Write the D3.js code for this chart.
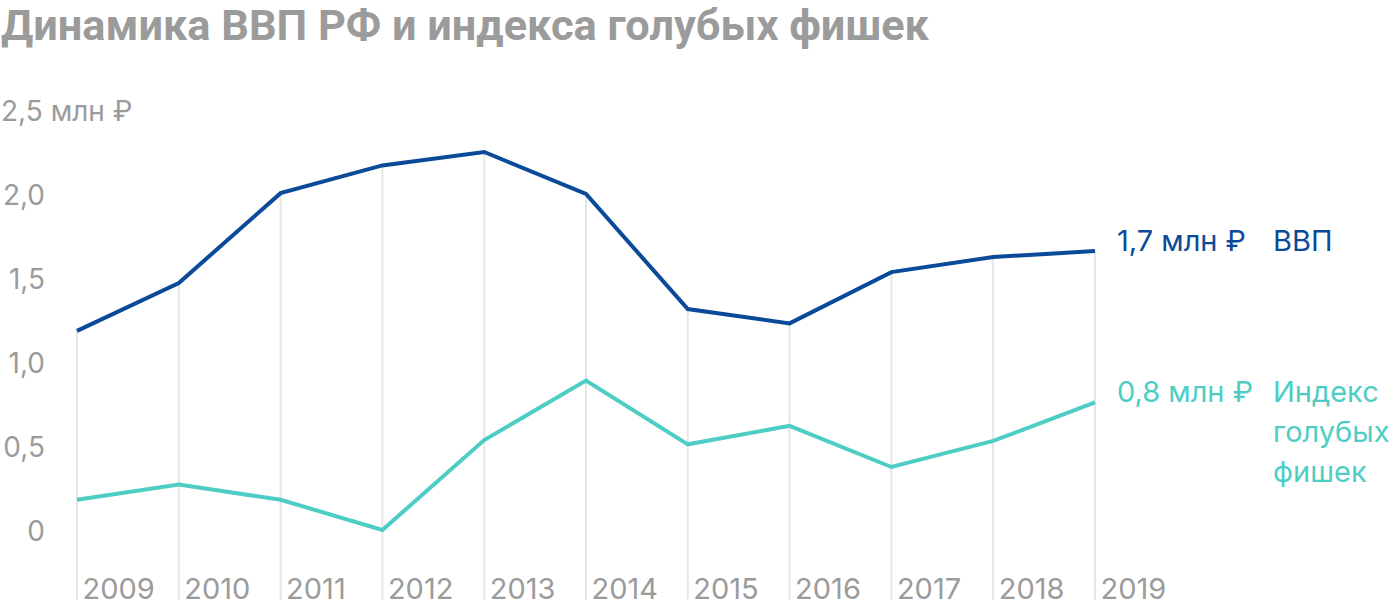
<!DOCTYPE html>
<html><head><meta charset="utf-8">
<script src="https://cdn.jsdelivr.net/npm/d3@7"></script>
<style>body{margin:0;background:#fff}svg{display:block}</style>
</head><body>
<svg id="c" width="1400" height="612"></svg>
<script>
const years = [2009,2010,2011,2012,2013,2014,2015,2016,2017,2018,2019];
const gdp = [1.185,1.47,2.005,2.17,2.25,2.0,1.315,1.23,1.535,1.625,1.66];
const blueChips = [0.18,0.27,0.18,0.0,0.535,0.89,0.51,0.62,0.375,0.53,0.76];
const yTicks = [0,0.5,1.0,1.5,2.0,2.5];
const yTickLabels = ["0","0,5","1,0","1,5","2,0","2,5 млн ₽"];

const svg = d3.select("#c");
const x = d3.scaleLinear().domain([2009,2019]).range([77,1095]);
const y = d3.scaleLinear().domain([0,2.5]).range([530,110]);
const gray = "#9b9b9b", blue = "#0a4a98", teal = "#4ecdc4";
const f = "Inter";

svg.append("text").attr("x",1).attr("y",40)
  .attr("font-family","Roboto").attr("font-weight",700).attr("font-size",42)
  .attr("fill",gray).attr("textLength",928).attr("lengthAdjust","spacingAndGlyphs")
  .text("Динамика ВВП РФ и индекса голубых фишек");

// gridlines
svg.append("g").selectAll("line").data(years).join("line")
  .attr("x1",d=>x(d)).attr("x2",d=>x(d))
  .attr("y1",(d,i)=>y(gdp[i])).attr("y2",600)
  .attr("stroke","#e6e6e6").attr("stroke-width",2);

// y axis labels
const yAxis = d3.axisLeft(y).tickValues(yTicks).tickSize(0).tickFormat((d,i)=>yTickLabels[i]);
const ga = svg.append("g").call(yAxis);
ga.select(".domain").remove();
ga.selectAll("text")
  .attr("x",(d,i)=> i===yTicks.length-1 ? 1 : 45)
  .attr("text-anchor",(d,i)=> i===yTicks.length-1 ? "start" : "end")
  .attr("dy","0.36em")
  .attr("font-family",f).attr("font-size",28).attr("fill",gray);

// x axis labels
const xAxis = d3.axisBottom(x).tickValues(years).tickSize(0).tickFormat(d3.format("d"));
const gx = svg.append("g").attr("transform","translate(0,599)").call(xAxis);
gx.select(".domain").remove();
gx.selectAll("text").attr("x",5).attr("y",0).attr("dy",0).attr("text-anchor","start")
  .attr("font-family",f).attr("font-size",29).attr("fill",gray);

const line = d3.line().x((d,i)=>x(years[i])).y(d=>y(d));
svg.append("path").datum(gdp).attr("d",line).attr("fill","none")
  .attr("stroke",blue).attr("stroke-width",4).attr("stroke-linejoin","miter");
svg.append("path").datum(blueChips).attr("d",line).attr("fill","none")
  .attr("stroke",teal).attr("stroke-width",4).attr("stroke-linejoin","miter");

const fs = 29;
svg.append("text").attr("x",1117).attr("y",251).attr("font-family",f).attr("font-size",fs)
  .attr("fill",blue).text("1,7 млн ₽");
svg.append("text").attr("x",1273).attr("y",251).attr("font-family",f).attr("font-size",fs)
  .attr("fill",blue).text("ВВП");
svg.append("text").attr("x",1117).attr("y",402).attr("font-family",f).attr("font-size",fs)
  .attr("fill",teal).text("0,8 млн ₽");
const lab = svg.append("text").attr("font-family",f).attr("font-size",fs).attr("fill",teal);
["Индекс","голубых","фишек"].forEach((t,i)=>lab.append("tspan").attr("x",1273).attr("y",402+i*40).text(t));
</script>
</body></html>
